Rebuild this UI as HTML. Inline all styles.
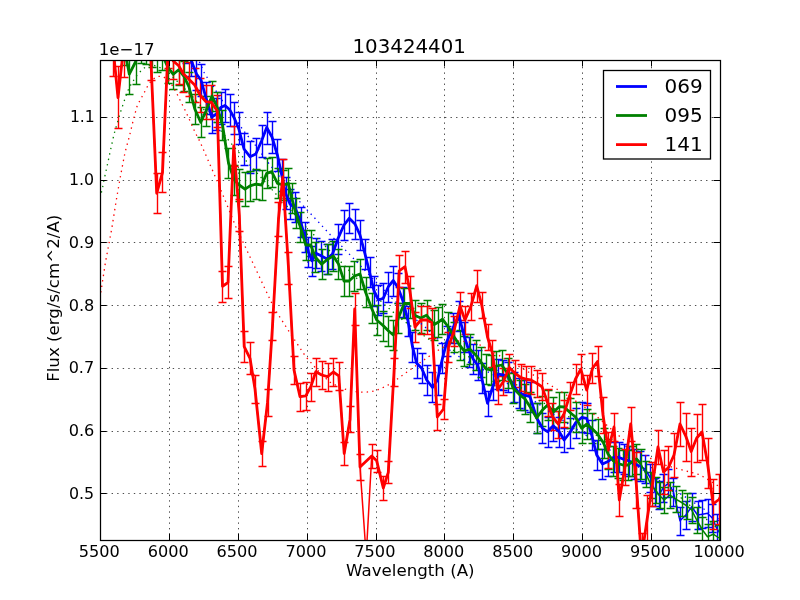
<!DOCTYPE html>
<html><head><meta charset="utf-8"><title>103424401</title>
<style>html,body{margin:0;padding:0;background:#fff;}svg{display:block;will-change:transform;}</style>
</head><body>
<svg width="800" height="600" viewBox="0 0 800 600">
<defs><clipPath id="ax"><rect x="100.0" y="60.0" width="620.0" height="480.0"/></clipPath></defs>
<rect x="0" y="0" width="800" height="600" fill="#fff"/>
<path d="M169.5 540.5V60M238.5 540.5V60M307.5 540.5V60M376.5 540.5V60M444.5 540.5V60M513.5 540.5V60M582.5 540.5V60M651.5 540.5V60M100.5 493.5H720M100.5 431.5H720M100.5 368.5H720M100.5 305.5H720M100.5 242.5H720M100.5 180.5H720M100.5 117.5H720" stroke="#000" stroke-width="0.7" fill="none" stroke-dasharray="1.3889 4.1667"/>
<g clip-path="url(#ax)">
<path d="M174.5 14.5V46.5M170.5 14.5H178.5M170.5 46.5H178.5M180.5 19.5V51.5M176.5 19.5H184.5M176.5 51.5H184.5M186.5 31.5V63.5M182.5 31.5H190.5M182.5 63.5H190.5M191.5 44.5V76.5M187.5 44.5H195.5M187.5 76.5H195.5M196.5 58.5V90.5M192.5 58.5H200.5M192.5 90.5H200.5M201.5 64.5V96.5M197.5 64.5H205.5M197.5 96.5H205.5M206.5 82.5V114.5M202.5 82.5H210.5M202.5 114.5H210.5M212.5 101.5V133.5M208.5 101.5H216.5M208.5 133.5H216.5M216.5 98.5V130.5M212.5 98.5H220.5M212.5 130.5H220.5M221.5 92.5V124.5M217.5 92.5H225.5M217.5 124.5H225.5M225.5 89.5V122.5M221.5 89.5H229.5M221.5 122.5H229.5M230.5 94.5V126.5M226.5 94.5H234.5M226.5 126.5H234.5M234.5 102.5V134.5M230.5 102.5H238.5M230.5 134.5H238.5M239.5 112.5V144.5M235.5 112.5H243.5M235.5 144.5H243.5M244.5 133.5V165.5M240.5 133.5H248.5M240.5 165.5H248.5M250.5 141.5V173.5M246.5 141.5H254.5M246.5 173.5H254.5M256.5 138.5V170.5M252.5 138.5H260.5M252.5 170.5H260.5M262.5 125.5V157.5M258.5 125.5H266.5M258.5 157.5H266.5M267.5 112.5V144.5M263.5 112.5H271.5M263.5 144.5H271.5M272.5 121.5V153.5M268.5 121.5H276.5M268.5 153.5H276.5M277.5 139.5V171.5M273.5 139.5H281.5M273.5 171.5H281.5M282.5 159.5V191.5M278.5 159.5H286.5M278.5 191.5H286.5M286.5 177.5V209.5M282.5 177.5H290.5M282.5 209.5H290.5M290.5 189.5V219.5M286.5 189.5H294.5M286.5 219.5H294.5M295.5 192.5V222.5M291.5 192.5H299.5M291.5 222.5H299.5M301.5 207.5V237.5M297.5 207.5H305.5M297.5 237.5H305.5M305.5 222.5V252.5M301.5 222.5H309.5M301.5 252.5H309.5M308.5 237.5V267.5M304.5 237.5H312.5M304.5 267.5H312.5M312.5 246.5V276.5M308.5 246.5H316.5M308.5 276.5H316.5M316.5 238.5V268.5M312.5 238.5H320.5M312.5 268.5H320.5M321.5 241.5V271.5M317.5 241.5H325.5M317.5 271.5H325.5M327.5 244.5V274.5M323.5 244.5H331.5M323.5 274.5H331.5M332.5 239.5V269.5M328.5 239.5H336.5M328.5 269.5H336.5M338.5 224.5V254.5M334.5 224.5H342.5M334.5 254.5H342.5M344.5 210.5V240.5M340.5 210.5H348.5M340.5 240.5H348.5M349.5 203.5V233.5M345.5 203.5H353.5M345.5 233.5H353.5M355.5 209.5V239.5M351.5 209.5H359.5M351.5 239.5H359.5M360.5 220.5V250.5M356.5 220.5H364.5M356.5 250.5H364.5M365.5 239.5V269.5M361.5 239.5H369.5M361.5 269.5H369.5M370.5 257.5V287.5M366.5 257.5H374.5M366.5 287.5H374.5M374.5 276.5V306.5M370.5 276.5H378.5M370.5 306.5H378.5M378.5 285.5V315.5M374.5 285.5H382.5M374.5 315.5H382.5M383.5 283.5V313.5M379.5 283.5H387.5M379.5 313.5H387.5M388.5 272.5V302.5M384.5 272.5H392.5M384.5 302.5H392.5M393.5 266.5V296.5M389.5 266.5H397.5M389.5 296.5H397.5M398.5 273.5V303.5M394.5 273.5H402.5M394.5 303.5H402.5M403.5 287.5V317.5M399.5 287.5H407.5M399.5 317.5H407.5M408.5 306.5V336.5M404.5 306.5H412.5M404.5 336.5H412.5M412.5 332.5V362.5M408.5 332.5H416.5M408.5 362.5H416.5M417.5 348.5V378.5M413.5 348.5H421.5M413.5 378.5H421.5M422.5 353.5V383.5M418.5 353.5H426.5M418.5 383.5H426.5M427.5 365.5V395.5M423.5 365.5H431.5M423.5 395.5H431.5M432.5 372.5V402.5M428.5 372.5H436.5M428.5 402.5H436.5M438.5 365.5V395.5M434.5 365.5H442.5M434.5 395.5H442.5M442.5 343.5V373.5M438.5 343.5H446.5M438.5 373.5H446.5M447.5 326.5V356.5M443.5 326.5H451.5M443.5 356.5H451.5M453.5 313.5V343.5M449.5 313.5H457.5M449.5 343.5H457.5M459.5 301.5V331.5M455.5 301.5H463.5M455.5 331.5H463.5M464.5 322.5V352.5M460.5 322.5H468.5M460.5 352.5H468.5M469.5 337.5V367.5M465.5 337.5H473.5M465.5 367.5H473.5M473.5 344.5V374.5M469.5 344.5H477.5M469.5 374.5H477.5M478.5 350.5V380.5M474.5 350.5H482.5M474.5 380.5H482.5M482.5 363.5V393.5M478.5 363.5H486.5M478.5 393.5H486.5M488.5 391.5V416.5M484.5 391.5H492.5M484.5 416.5H492.5M493.5 370.5V400.5M489.5 370.5H497.5M489.5 400.5H497.5M498.5 359.5V389.5M494.5 359.5H502.5M494.5 389.5H502.5M503.5 360.5V390.5M499.5 360.5H507.5M499.5 390.5H507.5M508.5 362.5V392.5M504.5 362.5H512.5M504.5 392.5H512.5M514.5 372.5V402.5M510.5 372.5H518.5M510.5 402.5H518.5M519.5 378.5V408.5M515.5 378.5H523.5M515.5 408.5H523.5M524.5 380.5V410.5M520.5 380.5H528.5M520.5 410.5H528.5M530.5 382.5V412.5M526.5 382.5H534.5M526.5 412.5H534.5M537.5 403.5V433.5M533.5 403.5H541.5M533.5 433.5H541.5M542.5 413.5V443.5M538.5 413.5H546.5M538.5 443.5H546.5M548.5 417.5V447.5M544.5 417.5H552.5M544.5 447.5H552.5M553.5 411.5V441.5M549.5 411.5H557.5M549.5 441.5H557.5M559.5 417.5V447.5M555.5 417.5H563.5M555.5 447.5H563.5M564.5 428.5V452.5M560.5 428.5H568.5M560.5 452.5H568.5M570.5 418.5V448.5M566.5 418.5H574.5M566.5 448.5H574.5M576.5 408.5V438.5M572.5 408.5H580.5M572.5 438.5H580.5M582.5 402.5V432.5M578.5 402.5H586.5M578.5 432.5H586.5M587.5 403.5V433.5M583.5 403.5H591.5M583.5 433.5H591.5M592.5 420.5V450.5M588.5 420.5H596.5M588.5 450.5H596.5M597.5 440.5V470.5M593.5 440.5H601.5M593.5 470.5H601.5M602.5 449.5V479.5M598.5 449.5H606.5M598.5 479.5H606.5M608.5 446.5V476.5M604.5 446.5H612.5M604.5 476.5H612.5M614.5 442.5V472.5M610.5 442.5H618.5M610.5 472.5H618.5M619.5 442.5V472.5M615.5 442.5H623.5M615.5 472.5H623.5M624.5 444.5V474.5M620.5 444.5H628.5M620.5 474.5H628.5M629.5 446.5V476.5M625.5 446.5H633.5M625.5 476.5H633.5M634.5 449.5V479.5M630.5 449.5H638.5M630.5 479.5H638.5M640.5 451.5V481.5M636.5 451.5H644.5M636.5 481.5H644.5M645.5 455.5V483.5M641.5 455.5H649.5M641.5 483.5H649.5M650.5 464.5V492.5M646.5 464.5H654.5M646.5 492.5H654.5M655.5 478.5V506.5M651.5 478.5H659.5M651.5 506.5H659.5M659.5 481.5V509.5M655.5 481.5H663.5M655.5 509.5H663.5M663.5 474.5V502.5M659.5 474.5H667.5M659.5 502.5H667.5M668.5 469.5V497.5M664.5 469.5H672.5M664.5 497.5H672.5M673.5 478.5V506.5M669.5 478.5H677.5M669.5 506.5H677.5M680.5 507.5V535.5M676.5 507.5H684.5M676.5 535.5H684.5M686.5 501.5V529.5M682.5 501.5H690.5M682.5 529.5H690.5M692.5 493.5V521.5M688.5 493.5H696.5M688.5 521.5H696.5M698.5 501.5V529.5M694.5 501.5H702.5M694.5 529.5H702.5M702.5 500.5V528.5M698.5 500.5H706.5M698.5 528.5H706.5M708.5 499.5V527.5M704.5 499.5H712.5M704.5 527.5H712.5M712.5 504.5V532.5M708.5 504.5H716.5M708.5 532.5H716.5M717.5 514.5V542.5M713.5 514.5H721.5M713.5 542.5H721.5M720.5 520.5V548.5M716.5 520.5H724.5M716.5 548.5H724.5" stroke="#0000ff" stroke-width="1.39" fill="none"/>
<polyline points="174.5,30 180,35 185.5,47 191,60 196.5,74 201,80 206,98 211.7,117 216.5,114 220.7,107.5 225,105.5 229.5,109.5 234,117.5 238.7,128.5 244,149 250,156.7 255.8,154 261.5,141 266.7,127.5 272,137 277.4,155 281.7,175 285.5,193 290,204 295,207.5 300.6,221.7 304.9,237 308.5,251.7 312,260.8 316,253.3 321,255.8 327,259 332.5,254 338,238.5 344,225 349.2,218.3 355,224 360,235 365,254 369.5,272 374,291 378.5,300 383.3,298.3 388.3,286.7 393.3,280.5 398.3,288.3 403.3,302 408,321 412.5,346.7 416.7,363.3 421.7,368.3 426.7,380 432.5,387.5 437.5,380 442.5,358.3 447,341 453,328 459,316 464.5,337 469.2,351.7 473.3,359.2 477.5,365 481.7,378 487.5,403.3 493.3,385 498.3,374.2 503.3,375 508.3,376.7 514.2,386.7 519.2,393.3 524.2,395 530,396.7 536.7,418 542.5,428.3 547.5,431.7 553.3,425.8 559.2,431.7 564.2,440 570,432.5 575.8,422.5 581.7,417.5 586.7,418.3 591.7,435 596.7,455 602.5,464 608,461.5 613.5,457.3 618.7,457.3 623.5,459.3 628.7,460.7 634.3,464 639.5,466 645,469 650.5,478 655,491.7 659.2,495 663.3,487.5 668.3,483.3 673.3,491.7 680,520.8 685.8,515 691.7,506.7 697.5,515 702.5,514.2 707.5,513.3 712.5,518.3 716.7,528.3 720.5,534" stroke="#0000ff" stroke-width="1.5" fill="none" stroke-linejoin="round"/>
<path d="M107.5 0.5V40.5M103.5 0.5H111.5M103.5 40.5H111.5M112.5 5.5V45.5M108.5 5.5H116.5M108.5 45.5H116.5M118.5 10.5V50.5M114.5 10.5H122.5M114.5 50.5H122.5M124.5 25.5V65.5M120.5 25.5H128.5M120.5 65.5H128.5M129.5 54.5V94.5M125.5 54.5H133.5M125.5 94.5H133.5M136.5 40.5V84.5M132.5 40.5H140.5M132.5 84.5H140.5M141.5 27.5V63.5M137.5 27.5H145.5M137.5 63.5H145.5M146.5 34.5V64.5M142.5 34.5H150.5M142.5 64.5H150.5M152.5 37.5V67.5M148.5 37.5H156.5M148.5 67.5H156.5M157.5 42.5V72.5M153.5 42.5H161.5M153.5 72.5H161.5M162.5 40.5V70.5M158.5 40.5H166.5M158.5 70.5H166.5M168.5 53.5V83.5M164.5 53.5H172.5M164.5 83.5H172.5M173.5 59.5V89.5M169.5 59.5H177.5M169.5 89.5H177.5M179.5 55.5V85.5M175.5 55.5H183.5M175.5 85.5H183.5M184.5 61.5V91.5M180.5 61.5H188.5M180.5 91.5H188.5M189.5 72.5V102.5M185.5 72.5H193.5M185.5 102.5H193.5M195.5 94.5V124.5M191.5 94.5H199.5M191.5 124.5H199.5M201.5 107.5V137.5M197.5 107.5H205.5M197.5 137.5H205.5M206.5 96.5V126.5M202.5 96.5H210.5M202.5 126.5H210.5M212.5 81.5V111.5M208.5 81.5H216.5M208.5 111.5H216.5M217.5 92.5V122.5M213.5 92.5H221.5M213.5 122.5H221.5M222.5 110.5V140.5M218.5 110.5H226.5M218.5 140.5H226.5M228.5 148.5V178.5M224.5 148.5H232.5M224.5 178.5H232.5M234.5 165.5V195.5M230.5 165.5H238.5M230.5 195.5H238.5M239.5 169.5V201.5M235.5 169.5H243.5M235.5 201.5H243.5M245.5 172.5V206.5M241.5 172.5H249.5M241.5 206.5H249.5M250.5 171.5V201.5M246.5 171.5H254.5M246.5 201.5H254.5M256.5 169.5V199.5M252.5 169.5H260.5M252.5 199.5H260.5M262.5 170.5V200.5M258.5 170.5H266.5M258.5 200.5H266.5M267.5 158.5V188.5M263.5 158.5H271.5M263.5 188.5H271.5M272.5 157.5V187.5M268.5 157.5H276.5M268.5 187.5H276.5M278.5 168.5V198.5M274.5 168.5H282.5M274.5 198.5H282.5M283.5 170.5V200.5M279.5 170.5H287.5M279.5 200.5H287.5M288.5 168.5V198.5M284.5 168.5H292.5M284.5 198.5H292.5M292.5 183.5V213.5M288.5 183.5H296.5M288.5 213.5H296.5M296.5 198.5V228.5M292.5 198.5H300.5M292.5 228.5H300.5M300.5 212.5V242.5M296.5 212.5H304.5M296.5 242.5H304.5M306.5 230.5V260.5M302.5 230.5H310.5M302.5 260.5H310.5M311.5 230.5V260.5M307.5 230.5H315.5M307.5 260.5H315.5M315.5 242.5V272.5M311.5 242.5H319.5M311.5 272.5H319.5M322.5 249.5V279.5M318.5 249.5H326.5M318.5 279.5H326.5M328.5 244.5V274.5M324.5 244.5H332.5M324.5 274.5H332.5M333.5 241.5V271.5M329.5 241.5H337.5M329.5 271.5H337.5M338.5 249.5V279.5M334.5 249.5H342.5M334.5 279.5H342.5M344.5 266.5V296.5M340.5 266.5H348.5M340.5 296.5H348.5M349.5 266.5V296.5M345.5 266.5H353.5M345.5 296.5H353.5M354.5 261.5V291.5M350.5 261.5H358.5M350.5 291.5H358.5M360.5 259.5V289.5M356.5 259.5H364.5M356.5 289.5H364.5M366.5 277.5V307.5M362.5 277.5H370.5M362.5 307.5H370.5M372.5 293.5V323.5M368.5 293.5H376.5M368.5 323.5H376.5M377.5 305.5V335.5M373.5 305.5H381.5M373.5 335.5H381.5M383.5 311.5V341.5M379.5 311.5H387.5M379.5 341.5H387.5M388.5 316.5V346.5M384.5 316.5H392.5M384.5 346.5H392.5M393.5 320.5V350.5M389.5 320.5H397.5M389.5 350.5H397.5M398.5 303.5V333.5M394.5 303.5H402.5M394.5 333.5H402.5M404.5 288.5V318.5M400.5 288.5H408.5M400.5 318.5H408.5M410.5 288.5V318.5M406.5 288.5H414.5M406.5 318.5H414.5M415.5 300.5V330.5M411.5 300.5H419.5M411.5 330.5H419.5M421.5 303.5V333.5M417.5 303.5H425.5M417.5 333.5H425.5M427.5 300.5V330.5M423.5 300.5H431.5M423.5 330.5H431.5M434.5 310.5V340.5M430.5 310.5H438.5M430.5 340.5H438.5M438.5 307.5V337.5M434.5 307.5H442.5M434.5 337.5H442.5M442.5 304.5V334.5M438.5 304.5H446.5M438.5 334.5H446.5M448.5 312.5V342.5M444.5 312.5H452.5M444.5 342.5H452.5M454.5 322.5V352.5M450.5 322.5H458.5M450.5 352.5H458.5M460.5 330.5V360.5M456.5 330.5H464.5M456.5 360.5H464.5M464.5 336.5V366.5M460.5 336.5H468.5M460.5 366.5H468.5M470.5 334.5V364.5M466.5 334.5H474.5M466.5 364.5H474.5M476.5 340.5V370.5M472.5 340.5H480.5M472.5 370.5H480.5M481.5 347.5V377.5M477.5 347.5H485.5M477.5 377.5H485.5M486.5 354.5V384.5M482.5 354.5H490.5M482.5 384.5H490.5M491.5 355.5V385.5M487.5 355.5H495.5M487.5 385.5H495.5M496.5 351.5V381.5M492.5 351.5H500.5M492.5 381.5H500.5M502.5 350.5V380.5M498.5 350.5H506.5M498.5 380.5H506.5M508.5 358.5V388.5M504.5 358.5H512.5M504.5 388.5H512.5M513.5 373.5V403.5M509.5 373.5H517.5M509.5 403.5H517.5M520.5 380.5V410.5M516.5 380.5H524.5M516.5 410.5H524.5M525.5 384.5V414.5M521.5 384.5H529.5M521.5 414.5H529.5M530.5 392.5V422.5M526.5 392.5H534.5M526.5 422.5H534.5M537.5 403.5V433.5M533.5 403.5H541.5M533.5 433.5H541.5M542.5 396.5V426.5M538.5 396.5H546.5M538.5 426.5H546.5M548.5 390.5V420.5M544.5 390.5H552.5M544.5 420.5H552.5M553.5 397.5V427.5M549.5 397.5H557.5M549.5 427.5H557.5M559.5 392.5V422.5M555.5 392.5H563.5M555.5 422.5H563.5M564.5 392.5V422.5M560.5 392.5H568.5M560.5 422.5H568.5M570.5 398.5V428.5M566.5 398.5H574.5M566.5 428.5H574.5M576.5 402.5V432.5M572.5 402.5H580.5M572.5 432.5H580.5M582.5 413.5V443.5M578.5 413.5H586.5M578.5 443.5H586.5M587.5 409.5V439.5M583.5 409.5H591.5M583.5 439.5H591.5M592.5 413.5V443.5M588.5 413.5H596.5M588.5 443.5H596.5M598.5 419.5V449.5M594.5 419.5H602.5M594.5 449.5H602.5M604.5 428.5V458.5M600.5 428.5H608.5M600.5 458.5H608.5M608.5 439.5V469.5M604.5 439.5H612.5M604.5 469.5H612.5M613.5 446.5V476.5M609.5 446.5H617.5M609.5 476.5H617.5M618.5 448.5V478.5M614.5 448.5H622.5M614.5 478.5H622.5M623.5 450.5V480.5M619.5 450.5H627.5M619.5 480.5H627.5M628.5 450.5V480.5M624.5 450.5H632.5M624.5 480.5H632.5M632.5 446.5V476.5M628.5 446.5H636.5M628.5 476.5H636.5M636.5 444.5V474.5M632.5 444.5H640.5M632.5 474.5H640.5M641.5 449.5V479.5M637.5 449.5H645.5M637.5 479.5H645.5M646.5 461.5V487.5M642.5 461.5H650.5M642.5 487.5H650.5M651.5 472.5V498.5M647.5 472.5H655.5M647.5 498.5H655.5M656.5 477.5V503.5M652.5 477.5H660.5M652.5 503.5H660.5M660.5 482.5V508.5M656.5 482.5H664.5M656.5 508.5H664.5M664.5 487.5V513.5M660.5 487.5H668.5M660.5 513.5H668.5M670.5 482.5V508.5M666.5 482.5H674.5M666.5 508.5H674.5M676.5 486.5V512.5M672.5 486.5H680.5M672.5 512.5H680.5M682.5 490.5V516.5M678.5 490.5H686.5M678.5 516.5H686.5M687.5 493.5V519.5M683.5 493.5H691.5M683.5 519.5H691.5M692.5 497.5V523.5M688.5 497.5H696.5M688.5 523.5H696.5M697.5 507.5V533.5M693.5 507.5H701.5M693.5 533.5H701.5M702.5 517.5V543.5M698.5 517.5H706.5M698.5 543.5H706.5M708.5 524.5V550.5M704.5 524.5H712.5M704.5 550.5H712.5M713.5 521.5V547.5M709.5 521.5H717.5M709.5 547.5H717.5M719.5 525.5V551.5M715.5 525.5H723.5M715.5 551.5H723.5" stroke="#008000" stroke-width="1.39" fill="none"/>
<polyline points="107,20 112.5,25 118,30 123.8,45 129.3,74.2 135.5,62 141,45 146.3,49 151.7,52 157,57 162.5,55 168,67.7 173.3,74.3 178.7,69.7 184,76.3 189,87 194.8,109 200.7,122.3 206,111 212,96 217.3,107.5 222.5,125 228.5,163 234.2,180 239.2,185 245,189.2 250,185.8 255.8,184.2 261.7,185 266.7,173.3 271.7,171.7 277.5,183.3 283.3,185 288.3,183.3 291.8,198.3 295.9,213.3 300.3,226.7 305.8,245 310.8,245 315,256.7 321.7,264.2 327.5,259.2 333.3,256 338.5,264 344,281 349,281 354.5,276 360,274 365.5,292 371.5,308 376.7,320 383.3,325.8 388.3,330.8 393.3,335 398.3,318.3 404.2,303.3 410,303.5 415,315.5 420.8,318 426.6,315.3 434.2,324.5 438.5,322 442.5,319.2 448.3,327 454.2,337 459.5,345 464.2,350.8 470,349.2 475.8,355 480.8,361.7 486,369 491,370 496.5,366 501.7,365 507.5,373.3 513.3,388.3 520,395 525,399 530.5,407.5 536.7,418 542,410.5 547.5,405 553.3,412 559.2,406.7 564.2,407 570,412.5 575.5,417 581.7,428.3 586.7,424.2 591.7,428.3 597.5,434 603.5,443 608,454 613,460.5 618,463.5 623,465 628,465 632.5,461.5 636.5,459 641,464 646,474 651,485 655.5,490 659.5,495.5 664.2,500 670,495 675.8,499.2 681.7,502.5 686.7,505.8 691.7,510 696.7,520 702.5,530 707.5,536.7 713.3,534.2 719,538" stroke="#008000" stroke-width="1.5" fill="none" stroke-linejoin="round"/>
<path d="M107.5 -9.5V40.5M103.5 -9.5H111.5M103.5 40.5H111.5M113.5 14.5V76.5M109.5 14.5H117.5M109.5 76.5H117.5M118.5 66.5V128.5M114.5 66.5H122.5M114.5 128.5H122.5M124.5 15.5V77.5M120.5 15.5H128.5M120.5 77.5H128.5M130.5 5.5V55.5M126.5 5.5H134.5M126.5 55.5H134.5M135.5 -4.5V45.5M131.5 -4.5H139.5M131.5 45.5H139.5M140.5 0.5V50.5M136.5 0.5H144.5M136.5 50.5H144.5M146.5 13.5V57.5M142.5 13.5H150.5M142.5 57.5H150.5M151.5 40.5V80.5M147.5 40.5H155.5M147.5 80.5H155.5M157.5 173.5V213.5M153.5 173.5H161.5M153.5 213.5H161.5M162.5 152.5V192.5M158.5 152.5H166.5M158.5 192.5H166.5M168.5 32.5V68.5M164.5 32.5H172.5M164.5 68.5H172.5M173.5 43.5V79.5M169.5 43.5H177.5M169.5 79.5H177.5M179.5 48.5V84.5M175.5 48.5H183.5M175.5 84.5H183.5M183.5 56.5V92.5M179.5 56.5H187.5M179.5 92.5H187.5M189.5 62.5V96.5M185.5 62.5H193.5M185.5 96.5H193.5M195.5 68.5V102.5M191.5 68.5H199.5M191.5 102.5H199.5M200.5 78.5V112.5M196.5 78.5H204.5M196.5 112.5H204.5M206.5 85.5V119.5M202.5 85.5H210.5M202.5 119.5H210.5M211.5 85.5V119.5M207.5 85.5H215.5M207.5 119.5H215.5M217.5 95.5V127.5M213.5 95.5H221.5M213.5 127.5H221.5M222.5 271.5V302.5M218.5 271.5H226.5M218.5 302.5H226.5M228.5 266.5V298.5M224.5 266.5H232.5M224.5 298.5H232.5M234.5 126.5V166.5M230.5 126.5H238.5M230.5 166.5H238.5M239.5 199.5V231.5M235.5 199.5H243.5M235.5 231.5H243.5M244.5 331.5V362.5M240.5 331.5H248.5M240.5 362.5H248.5M250.5 342.5V374.5M246.5 342.5H254.5M246.5 374.5H254.5M255.5 375.5V403.5M251.5 375.5H259.5M251.5 403.5H259.5M262.5 441.5V466.5M258.5 441.5H266.5M258.5 466.5H266.5M268.5 389.5V416.5M264.5 389.5H272.5M264.5 416.5H272.5M272.5 312.5V340.5M268.5 312.5H276.5M268.5 340.5H276.5M278.5 202.5V236.5M274.5 202.5H282.5M274.5 236.5H282.5M283.5 159.5V195.5M279.5 159.5H287.5M279.5 195.5H287.5M288.5 252.5V284.5M284.5 252.5H292.5M284.5 284.5H292.5M294.5 356.5V384.5M290.5 356.5H298.5M290.5 384.5H298.5M300.5 383.5V411.5M296.5 383.5H304.5M296.5 411.5H304.5M306.5 382.5V410.5M302.5 382.5H310.5M302.5 410.5H310.5M311.5 373.5V401.5M307.5 373.5H315.5M307.5 401.5H315.5M316.5 358.5V386.5M312.5 358.5H320.5M312.5 386.5H320.5M322.5 361.5V389.5M318.5 361.5H326.5M318.5 389.5H326.5M328.5 363.5V391.5M324.5 363.5H332.5M324.5 391.5H332.5M333.5 358.5V386.5M329.5 358.5H337.5M329.5 386.5H337.5M339.5 362.5V390.5M335.5 362.5H343.5M335.5 390.5H343.5M344.5 442.5V465.5M340.5 442.5H348.5M340.5 465.5H348.5M350.5 406.5V432.5M346.5 406.5H354.5M346.5 432.5H354.5M355.5 293.5V325.5M351.5 293.5H359.5M351.5 325.5H359.5M360.5 454.5V480.5M356.5 454.5H364.5M356.5 480.5H364.5M366.5 543.5V569.5M362.5 543.5H370.5M362.5 569.5H370.5M372.5 444.5V468.5M368.5 444.5H376.5M368.5 468.5H376.5M377.5 450.5V472.5M373.5 450.5H381.5M373.5 472.5H381.5M383.5 476.5V500.5M379.5 476.5H387.5M379.5 500.5H387.5M388.5 461.5V483.5M384.5 461.5H392.5M384.5 483.5H392.5M394.5 358.5V386.5M390.5 358.5H398.5M390.5 386.5H398.5M399.5 255.5V287.5M395.5 255.5H403.5M395.5 287.5H403.5M405.5 251.5V283.5M401.5 251.5H409.5M401.5 283.5H409.5M410.5 276.5V308.5M406.5 276.5H414.5M406.5 308.5H414.5M415.5 312.5V342.5M411.5 312.5H419.5M411.5 342.5H419.5M421.5 306.5V334.5M417.5 306.5H425.5M417.5 334.5H425.5M427.5 306.5V334.5M423.5 306.5H431.5M423.5 334.5H431.5M432.5 308.5V338.5M428.5 308.5H436.5M428.5 338.5H436.5M437.5 404.5V430.5M433.5 404.5H441.5M433.5 430.5H441.5M444.5 399.5V419.5M440.5 399.5H448.5M440.5 419.5H448.5M448.5 332.5V362.5M444.5 332.5H452.5M444.5 362.5H452.5M454.5 316.5V346.5M450.5 316.5H458.5M450.5 346.5H458.5M460.5 292.5V320.5M456.5 292.5H464.5M456.5 320.5H464.5M465.5 306.5V334.5M461.5 306.5H469.5M461.5 334.5H469.5M471.5 293.5V320.5M467.5 293.5H475.5M467.5 320.5H475.5M477.5 270.5V302.5M473.5 270.5H481.5M473.5 302.5H481.5M482.5 292.5V318.5M478.5 292.5H486.5M478.5 318.5H486.5M488.5 324.5V350.5M484.5 324.5H492.5M484.5 350.5H492.5M492.5 340.5V367.5M488.5 340.5H496.5M488.5 367.5H496.5M498.5 376.5V404.5M494.5 376.5H502.5M494.5 404.5H502.5M503.5 368.5V395.5M499.5 368.5H507.5M499.5 395.5H507.5M509.5 354.5V381.5M505.5 354.5H513.5M505.5 381.5H513.5M515.5 360.5V387.5M511.5 360.5H519.5M511.5 387.5H519.5M521.5 364.5V391.5M517.5 364.5H525.5M517.5 391.5H525.5M526.5 366.5V393.5M522.5 366.5H530.5M522.5 393.5H530.5M531.5 366.5V394.5M527.5 366.5H535.5M527.5 394.5H535.5M537.5 370.5V397.5M533.5 370.5H541.5M533.5 397.5H541.5M542.5 373.5V400.5M538.5 373.5H546.5M538.5 400.5H546.5M548.5 389.5V416.5M544.5 389.5H552.5M544.5 416.5H552.5M552.5 403.5V430.5M548.5 403.5H556.5M548.5 430.5H556.5M558.5 411.5V438.5M554.5 411.5H562.5M554.5 438.5H562.5M564.5 400.5V427.5M560.5 400.5H568.5M560.5 427.5H568.5M570.5 382.5V410.5M566.5 382.5H574.5M566.5 410.5H574.5M576.5 364.5V394.5M572.5 364.5H580.5M572.5 394.5H580.5M581.5 354.5V384.5M577.5 354.5H585.5M577.5 384.5H585.5M587.5 375.5V405.5M583.5 375.5H591.5M583.5 405.5H591.5M592.5 353.5V383.5M588.5 353.5H596.5M588.5 383.5H596.5M598.5 346.5V376.5M594.5 346.5H602.5M594.5 376.5H602.5M603.5 397.5V433.5M599.5 397.5H607.5M599.5 433.5H607.5M608.5 432.5V468.5M604.5 432.5H612.5M604.5 468.5H612.5M614.5 413.5V441.5M610.5 413.5H618.5M610.5 441.5H618.5M619.5 484.5V516.5M615.5 484.5H623.5M615.5 516.5H623.5M625.5 449.5V485.5M621.5 449.5H629.5M621.5 485.5H629.5M631.5 407.5V441.5M627.5 407.5H635.5M627.5 441.5H635.5M636.5 452.5V508.5M632.5 452.5H640.5M632.5 508.5H640.5M642.5 533.5V583.5M638.5 533.5H646.5M638.5 583.5H646.5M647.5 495.5V545.5M643.5 495.5H651.5M643.5 545.5H651.5M652.5 462.5V506.5M648.5 462.5H656.5M648.5 506.5H656.5M658.5 430.5V464.5M654.5 430.5H662.5M654.5 464.5H662.5M664.5 450.5V494.5M660.5 450.5H668.5M660.5 494.5H668.5M668.5 446.5V490.5M664.5 446.5H672.5M664.5 490.5H672.5M674.5 433.5V477.5M670.5 433.5H678.5M670.5 477.5H678.5M680.5 402.5V446.5M676.5 402.5H684.5M676.5 446.5H684.5M686.5 413.5V461.5M682.5 413.5H690.5M682.5 461.5H690.5M691.5 428.5V476.5M687.5 428.5H695.5M687.5 476.5H695.5M697.5 414.5V462.5M693.5 414.5H701.5M693.5 462.5H701.5M702.5 404.5V460.5M698.5 404.5H706.5M698.5 460.5H706.5M708.5 438.5V488.5M704.5 438.5H712.5M704.5 488.5H712.5M713.5 479.5V529.5M709.5 479.5H717.5M709.5 529.5H717.5M719.5 474.5V524.5M715.5 474.5H723.5M715.5 524.5H723.5M724.5 465.5V515.5M720.5 465.5H728.5M720.5 515.5H728.5" stroke="#ff0000" stroke-width="1.39" fill="none"/>
<polyline points="107,15 112.8,45 118,97.5 123.8,46 129.5,30 135,20 140.5,25 146,35 150.9,60 156.7,193.3 162.5,172.5 168,50 173.3,61 178.7,65.7 183.3,73.7 188.7,79 194.7,85 200,95 206,101.7 211.3,102.3 217.3,111 222.5,286.3 228,282.5 233.75,145.8 239.3,215 244.2,346.7 250,358.3 255,389 261.7,453.5 267.5,402.7 272.5,326 278.5,219 282.8,177 288.5,268 294,370 300,396.7 305.8,395.8 310.8,386.7 315.8,371.7 321.7,375 327.5,376.7 333.3,372 338.8,375.8 344.2,453.5 350,419.4 354.7,309 360,467 366.2,556 371.7,456 376.7,460.8 383.3,488 388.3,472.3 394,372 399.2,270.8 405,266.7 410,291.7 415,327 420.8,320 426.7,320 431.7,322.5 437.3,417 443.5,409 448.5,347 454,331 460,306 465,320 470.8,306.7 476.7,285.8 481.7,305 487.5,337 492.5,353.3 497.5,390 503.3,381.7 509.2,367.5 515,373.3 520.8,377.5 525.8,379.2 530.8,380 536.7,383.3 542,386.7 547.5,402.5 552.5,416.7 558.3,424.2 564.2,413.3 569.5,396 575.5,379 580.8,369.2 586.7,390 592.5,368.3 597.5,361.5 603,415 608.3,450 614,427 619.3,500 625,467 630.7,424 636,480 641.5,558 647,520 652.5,484 658,447 663.5,472 668.5,467.5 674,455 680,424 686,436.7 691.2,451.5 696.7,438 702,432 707.5,463 713.1,504 718.9,499.5 724.5,490" stroke="#ff0000" stroke-width="1.5" fill="none" stroke-linejoin="round"/>
<polyline points="190,48 195,55 200,63 204,72.3 207.3,77.7 213.3,86.3 218.7,95.7 230,111 241,127 245,132.5 255.8,145.8 270,165 283,181 296.3,197.7 303.7,206.3 311.2,214.3 318.7,222.3 330,234.5 342,246.5 353.5,258.5 365,270.5 376.5,282.5 391.7,298 408,313 425,327 440,341 453,353 471.7,364.2 490.8,373.3 510,385 530,398 550,412 570,425 590,438 610,450 630,462 650,474 670,487 690,500 710,513 722,521" stroke="#0000ff" stroke-width="1.3" fill="none" stroke-dasharray="1.3889 4.1667" />
<polyline points="100,198 102.3,189 104,180 106,171 108,162 110.3,151 114,134.3 120,113.7 125.3,97.7 129.3,87.3 132.7,82 135.3,77.3 138.7,73.4 142.5,69.2 146.7,66.2 150,65.2 153,65 157.3,66.7 162,68.5 168,72 174.7,79 180,84 190,94 200,105 212,119 220,129.5 227,138.3 235,148 245,159.6 252.5,168 260,176.3 275,193 290,209.5 305,226 320,241 335,256 342.5,263.5 350.5,272 358.5,280 370,291 385,305 400,318 420,333 440,347 460,352 480,363 500,374 520,387 540,401 560,412 580,423 600,438 620,452 640,466 660,481 680,497 700,514 722,532" stroke="#008000" stroke-width="1.3" fill="none" stroke-dasharray="1.3889 4.1667" />
<polyline points="100,298 105.5,262 111.7,229 116.3,200 120.5,176 125,152.5 129.3,136.7 133.3,120 137.3,105.3 143.3,94.4 148.7,84 153,79 158,76.3 162,76.3 166.5,78.5 170.7,82.7 176,92 181.3,102.7 186,112 190.7,122.7 195.3,132.7 200,141.7 216.7,180 226,202.5 235.8,226.7 250.5,258 274.2,308.3 290,333 305.8,356.7 320,373 331,383 343,388.5 351,391 359,392 365,392.2 370.5,391.8 376,390.5 381,388.5 386.5,386 395.5,380.5 400,377 404.5,373.8 409,370.5 413.3,367.5 433.3,353.3 441.7,348 450,343.3 458,341 467,341.5 478,344 490,350 505,359 520,367 535,376 550,385 565,394 580,404 595,415 610,428 625,441 640,452 655,461 667,465.7 677.5,468.6 688,471.5 698.5,474.4 704.3,477.3 712,482 720,487" stroke="#ff0000" stroke-width="1.3" fill="none" stroke-dasharray="1.3889 4.1667" />
<polyline points="174.5,30 180,35 185.5,47 191,60 196.5,74 201,80 206,98 211.7,117 216.5,114 220.7,107.5 225,105.5 229.5,109.5 234,117.5 238.7,128.5 244,149 250,156.7 255.8,154 261.5,141 266.7,127.5 272,137 277.4,155 281.7,175 285.5,193 290,204 295,207.5 300.6,221.7 304.9,237 308.5,251.7 312,260.8 316,253.3 321,255.8 327,259 332.5,254 338,238.5 344,225 349.2,218.3 355,224 360,235 365,254 369.5,272 374,291 378.5,300 383.3,298.3 388.3,286.7 393.3,280.5 398.3,288.3 403.3,302 408,321 412.5,346.7 416.7,363.3 421.7,368.3 426.7,380 432.5,387.5 437.5,380 442.5,358.3 447,341 453,328 459,316 464.5,337 469.2,351.7 473.3,359.2 477.5,365 481.7,378 487.5,403.3 493.3,385 498.3,374.2 503.3,375 508.3,376.7 514.2,386.7 519.2,393.3 524.2,395 530,396.7 536.7,418 542.5,428.3 547.5,431.7 553.3,425.8 559.2,431.7 564.2,440 570,432.5 575.8,422.5 581.7,417.5 586.7,418.3 591.7,435 596.7,455 602.5,464 608,461.5 613.5,457.3 618.7,457.3 623.5,459.3 628.7,460.7 634.3,464 639.5,466" stroke="#0000ff" stroke-width="2.8" fill="none" stroke-linejoin="round" stroke-linecap="butt"/>
<polyline points="107,20 112.5,25 118,30 123.8,45 129.3,74.2 135.5,62 141,45 146.3,49 151.7,52 157,57 162.5,55 168,67.7 173.3,74.3 178.7,69.7 184,76.3 189,87 194.8,109 200.7,122.3 206,111 212,96 217.3,107.5 222.5,125 228.5,163 234.2,180 239.2,185 245,189.2 250,185.8 255.8,184.2 261.7,185 266.7,173.3 271.7,171.7 277.5,183.3 283.3,185 288.3,183.3 291.8,198.3 295.9,213.3 300.3,226.7 305.8,245 310.8,245 315,256.7 321.7,264.2 327.5,259.2 333.3,256 338.5,264 344,281 349,281 354.5,276 360,274 365.5,292 371.5,308 376.7,320 383.3,325.8 388.3,330.8 393.3,335 398.3,318.3 404.2,303.3 410,303.5 415,315.5 420.8,318 426.6,315.3 434.2,324.5 438.5,322 442.5,319.2 448.3,327 454.2,337 459.5,345 464.2,350.8 470,349.2 475.8,355 480.8,361.7 486,369 491,370 496.5,366 501.7,365 507.5,373.3 513.3,388.3 520,395 525,399 530.5,407.5 536.7,418 542,410.5 547.5,405 553.3,412 559.2,406.7 564.2,407 570,412.5 575.5,417 581.7,428.3 586.7,424.2 591.7,428.3 597.5,434 603.5,443 608,454 613,460.5 618,463.5 623,465 628,465 632.5,461.5 636.5,459 641,464" stroke="#008000" stroke-width="2.8" fill="none" stroke-linejoin="round" stroke-linecap="butt"/>
<polyline points="107,15 112.8,45 118,97.5 123.8,46 129.5,30 135,20 140.5,25 146,35 150.9,60 156.7,193.3 162.5,172.5 168,50 173.3,61 178.7,65.7 183.3,73.7 188.7,79 194.7,85 200,95 206,101.7 211.3,102.3 217.3,111 222.5,286.3 228,282.5 233.75,145.8 239.3,215 244.2,346.7 250,358.3 255,389 261.7,453.5 267.5,402.7 272.5,326 278.5,219 282.8,177 288.5,268 294,370 300,396.7 305.8,395.8 310.8,386.7 315.8,371.7 321.7,375 327.5,376.7 333.3,372 338.8,375.8 344.2,453.5 350,419.4 354.7,309 360,467 371.7,456 376.7,460.8 383.3,488 388.3,472.3 394,372 399.2,270.8 405,266.7 410,291.7 415,327 420.8,320 426.7,320 431.7,322.5 437.3,417 443.5,409 448.5,347 454,331 460,306 465,320 470.8,306.7 476.7,285.8 481.7,305 487.5,337 492.5,353.3 497.5,390 503.3,381.7 509.2,367.5 515,373.3 520.8,377.5 525.8,379.2 530.8,380 536.7,383.3 542,386.7 547.5,402.5 552.5,416.7 558.3,424.2 564.2,413.3 569.5,396 575.5,379 580.8,369.2 586.7,390 592.5,368.3 597.5,361.5 603,415 608.3,450 614,427 619.3,500 625,467 630.7,424 636,480 641.5,558 647,520 652.5,484 658,447 663.5,472 668.5,467.5 674,455 680,424 686,436.7 691.2,451.5 696.7,438 702,432 707.5,463 713.1,504 718.9,499.5 724.5,490" stroke="#ff0000" stroke-width="2.8" fill="none" stroke-linejoin="round" stroke-linecap="butt"/>
</g>
<rect x="100.5" y="60.5" width="620" height="480" fill="none" stroke="#000" stroke-width="1.25"/>
<path d="M100.5 540V533.5M100.5 60V66.5M169.5 540V533.5M169.5 60V66.5M238.5 540V533.5M238.5 60V66.5M307.5 540V533.5M307.5 60V66.5M376.5 540V533.5M376.5 60V66.5M444.5 540V533.5M444.5 60V66.5M513.5 540V533.5M513.5 60V66.5M582.5 540V533.5M582.5 60V66.5M651.5 540V533.5M651.5 60V66.5M720.5 540V533.5M720.5 60V66.5M100 493.5H106.5M720 493.5H713.5M100 431.5H106.5M720 431.5H713.5M100 368.5H106.5M720 368.5H713.5M100 305.5H106.5M720 305.5H713.5M100 242.5H106.5M720 242.5H713.5M100 180.5H106.5M720 180.5H713.5M100 117.5H106.5M720 117.5H713.5" stroke="#000" stroke-width="1" fill="none"/>
<g font-family="'DejaVu Sans', 'Liberation Sans', sans-serif" font-size="16.67px" fill="#000">
<text x="78.79" y="557" textLength="41.06" lengthAdjust="spacingAndGlyphs">5500</text><text x="147.68" y="557" textLength="41.06" lengthAdjust="spacingAndGlyphs">6000</text><text x="216.57" y="557" textLength="41.06" lengthAdjust="spacingAndGlyphs">6500</text><text x="285.46" y="557" textLength="41.06" lengthAdjust="spacingAndGlyphs">7000</text><text x="354.35" y="557" textLength="41.06" lengthAdjust="spacingAndGlyphs">7500</text><text x="423.24" y="557" textLength="41.06" lengthAdjust="spacingAndGlyphs">8000</text><text x="492.13" y="557" textLength="41.06" lengthAdjust="spacingAndGlyphs">8500</text><text x="561.01" y="557" textLength="41.06" lengthAdjust="spacingAndGlyphs">9000</text><text x="629.9" y="557" textLength="41.06" lengthAdjust="spacingAndGlyphs">9500</text><text x="693.49" y="557" textLength="51.32" lengthAdjust="spacingAndGlyphs">10000</text><text x="68.9" y="499" textLength="25.18" lengthAdjust="spacingAndGlyphs">0.5</text><text x="68.65" y="436" textLength="25.71" lengthAdjust="spacingAndGlyphs">0.6</text><text x="68.65" y="373" textLength="25.58" lengthAdjust="spacingAndGlyphs">0.7</text><text x="68.65" y="311" textLength="25.71" lengthAdjust="spacingAndGlyphs">0.8</text><text x="68.65" y="248" textLength="25.71" lengthAdjust="spacingAndGlyphs">0.9</text><text x="68.9" y="185" textLength="25.18" lengthAdjust="spacingAndGlyphs">1.0</text><text x="69.9" y="122" textLength="24.92" lengthAdjust="spacingAndGlyphs">1.1</text>
<text x="98.7" y="55">1e&#8722;17</text>
<text x="410.3" y="576" text-anchor="middle">Wavelength (A)</text>
<text transform="translate(59.3,298.3) rotate(-90)" text-anchor="middle">Flux (erg/s/cm^2/A)</text>
<text x="352.45" y="53.1" font-size="20px" textLength="113.5" lengthAdjust="spacingAndGlyphs">103424401</text>
</g>
<g>
<rect x="603.5" y="70.5" width="107" height="88.5" fill="#fff" stroke="#000" stroke-width="1.3"/>
<path d="M616 86.5H647" stroke="#0000ff" stroke-width="2.8"/>
<path d="M616 115.5H647" stroke="#008000" stroke-width="2.8"/>
<path d="M616 144.6H647" stroke="#ff0000" stroke-width="2.8"/>
<g font-family="'DejaVu Sans', 'Liberation Sans', sans-serif" font-size="20px" fill="#000">
<text x="664.6" y="92.9">069</text>
<text x="664.6" y="121.6">095</text>
<text x="664.6" y="151">141</text>
</g>
</g>
</svg>
</body></html>
